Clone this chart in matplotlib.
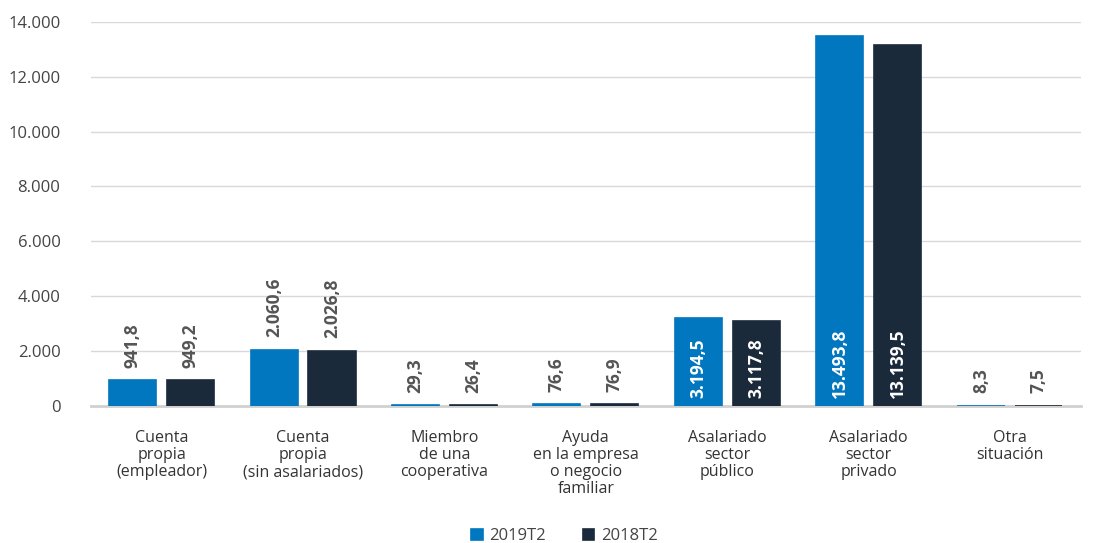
import matplotlib.pyplot as plt
import numpy as np

plt.rcParams['font.family'] = ['Open Sans', 'DejaVu Sans']

categorias = ["Cuenta\npropia\n(empleador)",
              "Cuenta\npropia\n(sin asalariados)",
              "Miembro\nde una\ncooperativa",
              "Ayuda\nen la empresa\no negocio\nfamiliar",
              "Asalariado\nsector\npúblico",
              "Asalariado\nsector\nprivado",
              "Otra\nsituación"]
v2019 = [941.8, 2060.6, 29.3, 76.6, 3194.5, 13493.8, 8.3]
v2018 = [949.2, 2026.8, 26.4, 76.9, 3117.8, 13139.5, 7.5]
series = ["2019T2", "2018T2"]
colores = ["#0077BF", "#1B2A3A"]


def fmt(v, dec=1):
    s = f"{v:,.{dec}f}"
    return s.replace(",", "X").replace(".", ",").replace("X", ".")


fig = plt.figure(figsize=(10.96, 5.43), dpi=100)
ax = fig.add_axes([0.083, 0.252, 0.903, 0.708])

x = np.arange(len(categorias))
w = 0.333
off = 0.205

for vals, col, d, lab in zip([v2019, v2018], colores, [-off, off], series):
    bars = ax.bar(x + d, vals, width=w, color=col, edgecolor=col,
                  linewidth=1.2, label=lab, zorder=3)
    for b, v in zip(bars, vals):
        cx = b.get_x() + b.get_width() / 2
        if v > 3000:
            ax.annotate(fmt(v), (cx, 0), xytext=(0, 6), textcoords="offset points",
                        rotation=90, ha="center", va="bottom", color="white",
                        fontsize=12.5, fontweight="bold", zorder=4)
        else:
            ax.annotate(fmt(v), (cx, v), xytext=(0, 9), textcoords="offset points",
                        rotation=90, ha="center", va="bottom", color="#555555",
                        fontsize=12.5, fontweight="bold", zorder=4)

ax.set_xlim(-0.5, len(categorias) - 0.5)
ax.set_ylim(0, 14000)
yt = np.arange(0, 14001, 2000)
ax.set_yticks(yt)
ax.set_yticklabels([fmt(t, 0) for t in yt], fontsize=12, color="#444444")
ax.set_xticks(x)
ax.set_xticklabels(categorias, fontsize=11.5, color="#333333", linespacing=1.1)
ax.tick_params(axis="x", length=0, pad=17)
ax.tick_params(axis="y", length=0, pad=22)
ax.grid(axis="y", color="#d9d9d9", linewidth=1, zorder=0)
for s in ["top", "right", "left"]:
    ax.spines[s].set_visible(False)
ax.spines["bottom"].set_color("#d0d0d0")
ax.spines["bottom"].set_linewidth(2)
ax.spines["bottom"].set_zorder(1)

leg = fig.legend(loc="lower center", bbox_to_anchor=(0.515, -0.03), ncol=2,
                 frameon=False, fontsize=12, handlelength=0.7, handleheight=0.7,
                 columnspacing=2.2, handletextpad=0.4)
for t in leg.get_texts():
    t.set_color("#444444")

fig.savefig("out.png", dpi=100)
